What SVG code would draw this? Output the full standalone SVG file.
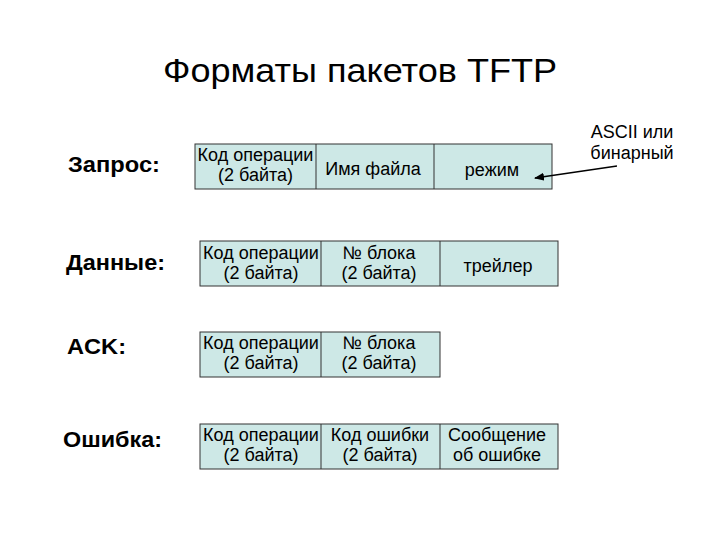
<svg xmlns="http://www.w3.org/2000/svg" width="720" height="540" viewBox="0 0 720 540">
<style>
text{font-family:"Liberation Sans",Arial,sans-serif;fill:#000}
.t{font-size:34px}
.lbl{font-size:22px;font-weight:bold}
.c{font-size:18px;text-anchor:middle}
.box{fill:#cde8e6;stroke:#333;stroke-width:1}
.div{stroke:#333;stroke-width:1}
</style>
<defs>
<marker id="ah" markerWidth="10" markerHeight="8" refX="9" refY="4" orient="auto" markerUnits="userSpaceOnUse">
<path d="M0,0 L10,4 L0,8 Z" fill="#000"/>
</marker>
</defs>
<rect width="720" height="540" fill="#fff"/>
<text class="t" x="163" y="82" textLength="394" lengthAdjust="spacingAndGlyphs">Форматы пакетов TFTP</text>

<g id="request">
<text class="lbl" x="68" y="172" textLength="92" lengthAdjust="spacingAndGlyphs">Запрос:</text>
<rect class="box" x="195" y="144" width="357" height="45"/>
<line class="div" x1="316" y1="144" x2="316" y2="189"/>
<line class="div" x1="434" y1="144" x2="434" y2="189"/>
<text class="c" x="255.5" y="161">Код операции</text>
<text class="c" x="255.5" y="181">(2 байта)</text>
<text class="c" x="373" y="175">Имя файла</text>
<text class="c" x="492" y="176">режим</text>
</g>

<g id="data">
<text class="lbl" x="66" y="270" textLength="99" lengthAdjust="spacingAndGlyphs">Данные:</text>
<rect class="box" x="200" y="241" width="358" height="45"/>
<line class="div" x1="321" y1="241" x2="321" y2="286"/>
<line class="div" x1="440" y1="241" x2="440" y2="286"/>
<text class="c" x="261" y="259">Код операции</text>
<text class="c" x="261" y="279">(2 байта)</text>
<text class="c" x="379" y="259">№ блока</text>
<text class="c" x="379" y="279">(2 байта)</text>
<text class="c" x="498" y="272">трейлер</text>
</g>

<g id="ack">
<text class="lbl" x="67" y="354" textLength="59" lengthAdjust="spacingAndGlyphs">ACK:</text>
<rect class="box" x="200" y="332" width="240" height="45"/>
<line class="div" x1="321" y1="332" x2="321" y2="377"/>
<text class="c" x="261" y="349">Код операции</text>
<text class="c" x="261" y="369">(2 байта)</text>
<text class="c" x="379" y="349">№ блока</text>
<text class="c" x="379" y="369">(2 байта)</text>
</g>

<g id="error">
<text class="lbl" x="63" y="447" textLength="99" lengthAdjust="spacingAndGlyphs">Ошибка:</text>
<rect class="box" x="200" y="424" width="358" height="45"/>
<line class="div" x1="321" y1="424" x2="321" y2="469"/>
<line class="div" x1="440" y1="424" x2="440" y2="469"/>
<text class="c" x="261" y="441">Код операции</text>
<text class="c" x="261" y="461">(2 байта)</text>
<text class="c" x="380" y="441">Код ошибки</text>
<text class="c" x="380" y="461">(2 байта)</text>
<text class="c" x="497" y="441">Сообщение</text>
<text class="c" x="497" y="461">об ошибке</text>
</g>

<g id="note">
<text class="c" x="632" y="138">ASCII или</text>
<text class="c" x="632" y="159">бинарный</text>
</g>

<g id="connectors">
<line x1="617" y1="166" x2="535" y2="178" stroke="#000" stroke-width="1.5" marker-end="url(#ah)"/>
</g>
</svg>
